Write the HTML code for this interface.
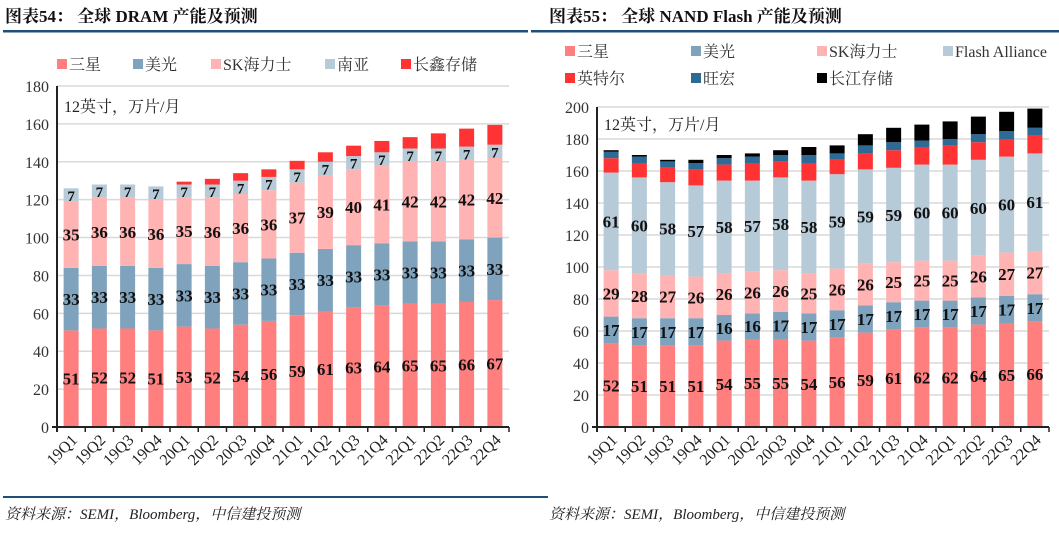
<!DOCTYPE html>
<html><head><meta charset="utf-8">
<style>
html,body{margin:0;padding:0;background:#fff;}
body{width:1059px;height:530px;overflow:hidden;position:relative;font-family:"Liberation Serif","Noto Serif CJK SC",serif;}
svg text{font-family:"Liberation Serif","Noto Serif CJK SC",serif;}
</style></head>
<body>
<svg id="svg" width="1059" height="530" xmlns="http://www.w3.org/2000/svg">
<text x="5" y="22" font-size="17" font-weight="bold" fill="#111">图表54：   全球 DRAM 产能及预测</text>
<rect x="3" y="30" width="525" height="2.5" fill="#1f4e79"/>
<text x="549" y="22" font-size="17" font-weight="bold" fill="#111">图表55：   全球 NAND Flash 产能及预测</text>
<rect x="531" y="30" width="528" height="2.5" fill="#1f4e79"/>
<rect x="3" y="496" width="545" height="2" fill="#1f4e79"/>
<text x="5" y="519" font-size="15" font-style="italic" fill="#222">资料来源：SEMI，Bloomberg，中信建投预测</text>
<text x="549" y="519" font-size="15" font-style="italic" fill="#222">资料来源：SEMI，Bloomberg，中信建投预测</text>
<g id="left"></g>
<g id="right"></g>
</svg>
<script>
const categories = ["19Q1","19Q2","19Q3","19Q4","20Q1","20Q2","20Q3","20Q4","21Q1","21Q2","21Q3","21Q4","22Q1","22Q2","22Q3","22Q4"];
// DRAM
const dramSamsung = [51,52,52,51,53,52,54,56,59,61,63,64,65,65,66,67];
const dramMicron = [33,33,33,33,33,33,33,33,33,33,33,33,33,33,33,33];
const dramSK = [35,36,36,36,35,36,36,36,37,39,40,41,42,42,42,42];
const dramNanya = [7,7,7,7,7,7,7,7,7,7,7,7,7,7,7,7];
const dramCXMT = [0,0,0,0,1.5,3,4,4,4.5,5,5.5,6,6,8,9.5,10.5];
const dramTicks = [0,20,40,60,80,100,120,140,160,180];
// NAND
const nandSamsung = [52,51,51,51,54,55,55,54,56,59,61,62,62,64,65,66];
const nandMicron = [17,17,17,17,16,16,17,17,17,17,17,17,17,17,17,17];
const nandSK = [29,28,27,26,26,26,26,25,26,26,25,25,25,26,27,27];
const nandFA = [61,60,58,57,58,57,58,58,59,59,59,60,60,60,60,61];
const nandIntel = [9,9,9,10,10,11,10,11,9,10,11,11,12,11,11,11];
const nandMacronix = [4,4,4,4,4,4,4,5,4,5,5,4,4,5,5,5];
const nandYMTC = [1,1,1,2,2,2,3,5,5,7,9,10,11,11,12,12];
const nandTicks = [0,20,40,60,80,100,120,140,160,180,200];

const NS="http://www.w3.org/2000/svg";
function mk(parent,tag,attrs){const e=document.createElementNS(NS,tag);for(const k in attrs)e.setAttribute(k,attrs[k]);parent.appendChild(e);return e;}

function drawChart(g, opt){
  const x0=opt.x0, x1=opt.x1, y0=427, yTop=opt.yTop, max=opt.ticks[opt.ticks.length-1];
  const yS=v=>y0-(v/max)*(y0-yTop);
  const cw=(x1-x0)/categories.length;
  const xC=i=>x0+cw*(i+0.5);
  opt.ticks.forEach(t=>{
    if(t>0){const l=mk(g,'line',{x1:x0,x2:x1,y1:yS(t),y2:yS(t),stroke:'#d9d9d9','stroke-width':1.5});
    
    }
    const tx=mk(g,'text',{x:x0-8,y:yS(t)+6,'text-anchor':'end','font-size':16,fill:'#333'});
    tx.textContent=t;
    
    
  });
  categories.forEach((c,i)=>{
    let base=0;
    opt.series.forEach(s=>{
      const v=s.values[i];
      if(v>0){
        const r=mk(g,'rect',{x:xC(i)-7.5,width:15,y:yS(base+v),height:yS(base)-yS(base+v),fill:s.color});
        
        
        if(s.label){
          const t=mk(g,'text',{x:xC(i),y:yS(base+v/2)+6,'text-anchor':'middle','font-size':s.fs||17,'font-weight':'bold',fill:'#111'});
          t.textContent=Math.round(v);
          
          
        }
      }
      base+=v;
    });
    const lb=mk(g,'text',{x:0,y:0,'text-anchor':'end','font-size':16,fill:'#222',transform:`translate(${xC(i)+7},${y0+14}) rotate(-45)`});
    lb.textContent=c;
    
    
    const tk=mk(g,'line',{x1:x0+cw*i,x2:x0+cw*i,y1:y0,y2:y0+5,stroke:'#222','stroke-width':1.5});
    
    
  });
  const tkEnd=mk(g,'line',{x1:x1,x2:x1,y1:y0,y2:y0+5,stroke:'#222','stroke-width':1.5});
  
  
  const ya=mk(g,'line',{x1:x0,x2:x0,y1:yTop,y2:y0+5,stroke:'#222','stroke-width':2});
  
  
  const xa=mk(g,'line',{x1:x0-5,x2:x1,y1:y0,y2:y0,stroke:'#222','stroke-width':2});
  
  
  const u=mk(g,'text',{x:x0+7,y:opt.unitY,'font-size':16,fill:'#222'});
  u.textContent='12英寸，万片/月';
  
  
  opt.legend.forEach(l=>{
    const lg=mk(g,'g',{});
    
    
    mk(lg,'rect',{x:l.x,y:l.y-9,width:10,height:10,fill:l.color});
    const t=mk(lg,'text',{x:l.x+12,y:l.y+2,'font-size':16,fill:'#333'});
    t.textContent=l.text;
  });
}

const C={sam:'#ff7f7f',mic:'#7fa3bd',sk:'#ffb3b3',lb:'#b7cad8',red:'#ff3333',dk:'#2e6a96',blk:'#000'};
drawChart(document.getElementById('left'),{
  x0:57,x1:509,yTop:86,ticks:dramTicks,unitY:112,
  series:[
    {name:'samsung',values:dramSamsung,color:C.sam,label:true},
    {name:'micron',values:dramMicron,color:C.mic,label:true},
    {name:'sk-hynix',values:dramSK,color:C.sk,label:true},
    {name:'nanya',values:dramNanya,color:C.lb,label:true,fs:15},
    {name:'cxmt',values:dramCXMT,color:C.red}
  ],
  legend:[
    {x:57,y:68,color:C.sam,text:'三星'},
    {x:133,y:68,color:C.mic,text:'美光'},
    {x:211,y:68,color:C.sk,text:'SK海力士'},
    {x:325,y:68,color:C.lb,text:'南亚'},
    {x:401,y:68,color:C.red,text:'长鑫存储'}
  ]
});
drawChart(document.getElementById('right'),{
  x0:597,x1:1049,yTop:107,ticks:nandTicks,unitY:130,
  series:[
    {name:'samsung',values:nandSamsung,color:C.sam,label:true},
    {name:'micron',values:nandMicron,color:C.mic,label:true},
    {name:'sk-hynix',values:nandSK,color:C.sk,label:true},
    {name:'flash-alliance',values:nandFA,color:C.lb,label:true},
    {name:'intel',values:nandIntel,color:C.red},
    {name:'macronix',values:nandMacronix,color:C.dk},
    {name:'ymtc',values:nandYMTC,color:C.blk}
  ],
  legend:[
    {x:565,y:55,color:C.sam,text:'三星'},
    {x:691,y:55,color:C.mic,text:'美光'},
    {x:817,y:55,color:C.sk,text:'SK海力士'},
    {x:943,y:55,color:C.lb,text:'Flash Alliance'},
    {x:565,y:82,color:C.red,text:'英特尔'},
    {x:691,y:82,color:C.dk,text:'旺宏'},
    {x:817,y:82,color:C.blk,text:'长江存储'}
  ]
});
</script>
</body></html>
